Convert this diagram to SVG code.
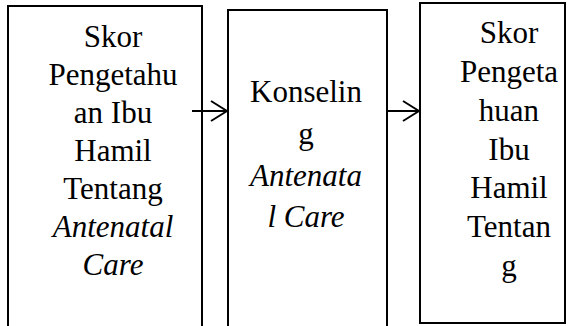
<svg xmlns="http://www.w3.org/2000/svg" width="576" height="326" viewBox="0 0 576 326">
<defs>
<style>
.box{fill:#fff;stroke:#000;stroke-width:2}
.t{font-family:'Liberation Serif','Times New Roman',serif;font-size:31px;fill:#000;text-anchor:middle}
.i{font-style:italic}
.c{stroke:#000;stroke-width:2;fill:none}
</style>
<marker id="arr" markerWidth="18" markerHeight="24" refX="17" refY="12" orient="auto" markerUnits="userSpaceOnUse">
<path d="M1,2 L17,12 L1,22" fill="none" stroke="#000" stroke-width="2"/>
</marker>
</defs>
<rect width="576" height="326" fill="#fff"/>
<g id="node1">
<rect class="box" x="8" y="6" width="194" height="330"/>
<text class="t" x="113" y="47">Skor</text>
<text class="t" x="113" y="85">Pengetahu</text>
<text class="t" x="113" y="123">an Ibu</text>
<text class="t" x="113" y="161">Hamil</text>
<text class="t" x="113" y="199">Tentang</text>
<text class="t i" x="113" y="237">Antenatal</text>
<text class="t i" x="113" y="275">Care</text>
</g>
<g id="node2">
<rect class="box" x="228" y="10" width="159" height="330"/>
<text class="t" x="306" y="102">Konselin</text>
<text class="t" x="306" y="144">g</text>
<text class="t i" x="306" y="186">Antenata</text>
<text class="t i" x="306" y="227">l Care</text>
</g>
<g id="node3">
<rect class="box" x="420" y="3" width="145" height="320"/>
<text class="t" x="509" y="43">Skor</text>
<text class="t" x="509" y="82">Pengeta</text>
<text class="t" x="509" y="121">huan</text>
<text class="t" x="509" y="160">Ibu</text>
<text class="t" x="509" y="198">Hamil</text>
<text class="t" x="509" y="237">Tentan</text>
<text class="t" x="509" y="276">g</text>
</g>
<g id="connectors">
<line class="c" x1="192" y1="111" x2="227" y2="111" marker-end="url(#arr)"/>
<line class="c" x1="387" y1="111" x2="419" y2="111" marker-end="url(#arr)"/>
</g>
</svg>
